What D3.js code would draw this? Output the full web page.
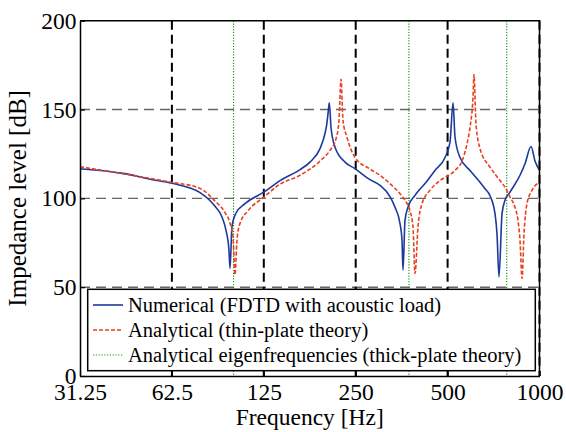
<!DOCTYPE html>
<html>
<head>
<meta charset="utf-8">
<script src="https://cdn.jsdelivr.net/npm/d3@7"></script>
<style>
  body { margin: 0; background: #fff; }
</style>
</head>
<body>
<div id="chart"></div>
<script>
// tick values and labels
const xTicks = [31.25, 62.5, 125, 250, 500, 1000]
const xTickLabels = ['31.25', '62.5', '125', '250', '500', '1000']
const yTicks = [0, 50, 100, 150, 200]

// numerical (FDTD) curve: [Hz, dB]
const numFreq = [31.25, 43.9, 53.0, 62.5, 77.3, 86.5, 91.2, 94.0, 96.1, 96.9, 98.3, 101.3, 108.5, 125,
    141.3, 164.3, 177.1, 191.0, 198.3, 200.9, 202.9, 204.9, 207.5, 213.9, 230.7, 248.7, 278.5, 300.3,
    323.8, 336.3, 349.2, 354.5, 357.2, 362.6, 370.8, 391.0, 421.6, 454.6, 490.3, 509.2, 520.9, 528.8,
    549.1, 592.2, 638.5, 663.1, 688.5, 714.9, 725.8, 736.8, 753.8, 771.0, 800.5, 863.3, 896.5, 938.2,
    966.6, 1000]
const numLevel = [116.7, 113.9, 110.8, 108.5, 103.2, 95.5, 89.5, 82, 71, 60.5, 84, 91.6, 97, 103.5,
    110, 116.2, 120.4, 128, 136.5, 141.5, 147.7, 153.8, 140, 128.8, 120.4, 116.7, 110.5, 107.3,
    101, 95, 85.8, 76.4, 59.6, 87.6, 95, 101.7, 108.3, 115.7, 123, 131.6, 153.8, 134.4,
    123, 115.7, 109, 105.4, 101.5, 91.4, 80, 55.8, 91.4, 98.9, 103.5, 113, 119.5, 129.2,
    121, 115.7]

// analytical (thin-plate) curve
const anaFreq = [31.25, 53.0, 62.5, 77.3, 86.5, 93.3, 96.9, 99.1, 100.6, 102.1, 104.5, 111.0, 125,
    141.3, 164.3, 191.0, 205.9, 215.5, 220.4, 223.8, 227.2, 234.1, 248.7, 278.5, 300.3, 323.8, 349.2,
    362.6, 376.5, 385.1, 391.0, 400.0, 412.2, 437.7, 472.1, 528.8, 557.4, 578.8, 592.2, 605.6, 610.1,
    619.4, 638.5, 688.5, 742.4, 771.0, 800.5, 831.2, 850.3, 863.3, 876.6, 889.7, 910.1, 945.0, 1000]
const anaLevel = [117.8, 111.2, 109, 105.6, 98.5, 92, 86, 78, 57, 76.4, 86, 93, 100.7,
    108, 113, 121, 127, 133.5, 143.8, 167, 143.8, 134.4, 123, 116.5, 113, 108.3, 102.6,
    98.9, 93, 84, 57.7, 84, 97, 104.5, 110, 115.7, 121, 130.7, 140, 157, 169.7,
    142, 128, 117.6, 110, 106.3, 100.7, 95, 87.6, 76.4, 54.9, 80, 97, 104.5, 109]

// eigenfrequencies (thick-plate theory)
const eigenFreq = [99.5, 373.5, 781]

const seriesNames = [
    'Numerical (FDTD with acoustic load)',
    'Analytical (thin-plate theory)',
    'Analytical eigenfrequencies (thick-plate theory)'
]

const W = 566, H = 432
const pLeft = 80, pRight = 539.5, pTop = 20.7, pBottom = 376
const FONT = '"Liberation Serif"'

const svg = d3.select('#chart').append('svg')
    .attr('width', W)
    .attr('height', H)

const x = d3.scaleLog().base(2).domain([31.25, 1000]).range([pLeft, pRight])
const y = d3.scaleLinear().domain([0, 200]).range([pBottom, pTop])

const blue = '#1c3a9c'
const red = '#e8401c'
const green = '#1a9a1a'

// horizontal grid
svg.append('g')
    .selectAll('line')
    .data([50, 100, 150])
    .join('line')
    .attr('x1', pLeft).attr('x2', pRight)
    .attr('y1', d => y(d)).attr('y2', d => y(d))
    .attr('stroke', '#666')
    .attr('stroke-width', 1.4)
    .attr('stroke-dasharray', '10,6')

// vertical grid
svg.append('g')
    .selectAll('line')
    .data(xTicks.slice(1))
    .join('line')
    .attr('x1', d => x(d)).attr('x2', d => x(d))
    .attr('y1', pTop).attr('y2', pBottom)
    .attr('stroke', '#000')
    .attr('stroke-width', 2)
    .attr('stroke-dasharray', '9,5')

// eigenfrequency lines
svg.append('g')
    .selectAll('line')
    .data(eigenFreq)
    .join('line')
    .attr('x1', d => x(d)).attr('x2', d => x(d))
    .attr('y1', pTop).attr('y2', pBottom)
    .attr('stroke', green)
    .attr('stroke-width', 1.2)
    .attr('stroke-dasharray', '1.2,1.6')

const line = d3.line()
    .x(d => x(d[0]))
    .y(d => y(d[1]))
    .curve(d3.curveMonotoneX)

const numData = numFreq.map((f, i) => [f, numLevel[i]])
const anaData = anaFreq.map((f, i) => [f, anaLevel[i]])

svg.append('path')
    .datum(numData)
    .attr('fill', 'none')
    .attr('stroke', blue)
    .attr('stroke-width', 1.6)
    .attr('d', line)

svg.append('path')
    .datum(anaData)
    .attr('fill', 'none')
    .attr('stroke', red)
    .attr('stroke-width', 1.6)
    .attr('stroke-dasharray', '4,2')
    .attr('d', line)

// legend
const lg = svg.append('g')
lg.append('rect')
    .attr('x', 87.7).attr('y', 289.3)
    .attr('width', 447.6).attr('height', 81.4)
    .attr('fill', '#fff')
    .attr('stroke', '#000')
    .attr('stroke-width', 1.5)

const legendStyles = [
    { c: blue, dash: null, w: 1.6 },
    { c: red, dash: '4,2', w: 1.6 },
    { c: green, dash: '1.2,1.6', w: 1.2 }
]
seriesNames.forEach((name, i) => {
    const ly = 305 + i * 25
    lg.append('line')
        .attr('x1', 93).attr('x2', 123)
        .attr('y1', ly).attr('y2', ly)
        .attr('stroke', legendStyles[i].c)
        .attr('stroke-width', legendStyles[i].w)
        .attr('stroke-dasharray', legendStyles[i].dash)
    lg.append('text')
        .attr('x', 128)
        .attr('y', ly + 7)
        .style('font-family', FONT)
        .style('font-size', '20.5px')
        .style('fill', '#000')
        .text(name)
})

// axes
const xAxis = d3.axisBottom(x)
    .tickValues(xTicks)
    .tickFormat((d, i) => xTickLabels[i])
    .tickSizeInner(-5)
    .tickSizeOuter(0)
    .tickPadding(7)
const yAxis = d3.axisLeft(y)
    .tickValues(yTicks)
    .tickSizeInner(-5)
    .tickSizeOuter(0)
    .tickPadding(3.5)

svg.append('g')
    .attr('transform', `translate(0,${pBottom})`)
    .call(xAxis)
svg.append('g')
    .attr('transform', `translate(${pLeft},0)`)
    .call(yAxis)

svg.selectAll('.domain').attr('stroke', '#000').attr('stroke-width', 1.5)
svg.selectAll('.tick line').attr('stroke', '#000').attr('stroke-width', 1.2)
svg.selectAll('.tick text')
    .style('font-family', FONT)
    .style('font-size', '23.5px')
    .style('fill', '#000')

// frame top and right
svg.append('path')
    .attr('d', `M${pLeft},${pTop}H${pRight}V${pBottom}`)
    .attr('fill', 'none')
    .attr('stroke', '#000')
    .attr('stroke-width', 1.5)

// axis titles
svg.append('text')
    .attr('x', (pLeft + pRight) / 2)
    .attr('y', 425)
    .attr('text-anchor', 'middle')
    .style('font-family', FONT)
    .style('font-size', '23.5px')
    .style('fill', '#000')
    .text('Frequency [Hz]')

svg.append('text')
    .attr('transform', `translate(26,${(pTop + pBottom) / 2}) rotate(-90)`)
    .attr('text-anchor', 'middle')
    .style('font-family', FONT)
    .style('font-size', '25px')
    .style('fill', '#000')
    .text('Impedance level [dB]')
</script>
</body>
</html>
